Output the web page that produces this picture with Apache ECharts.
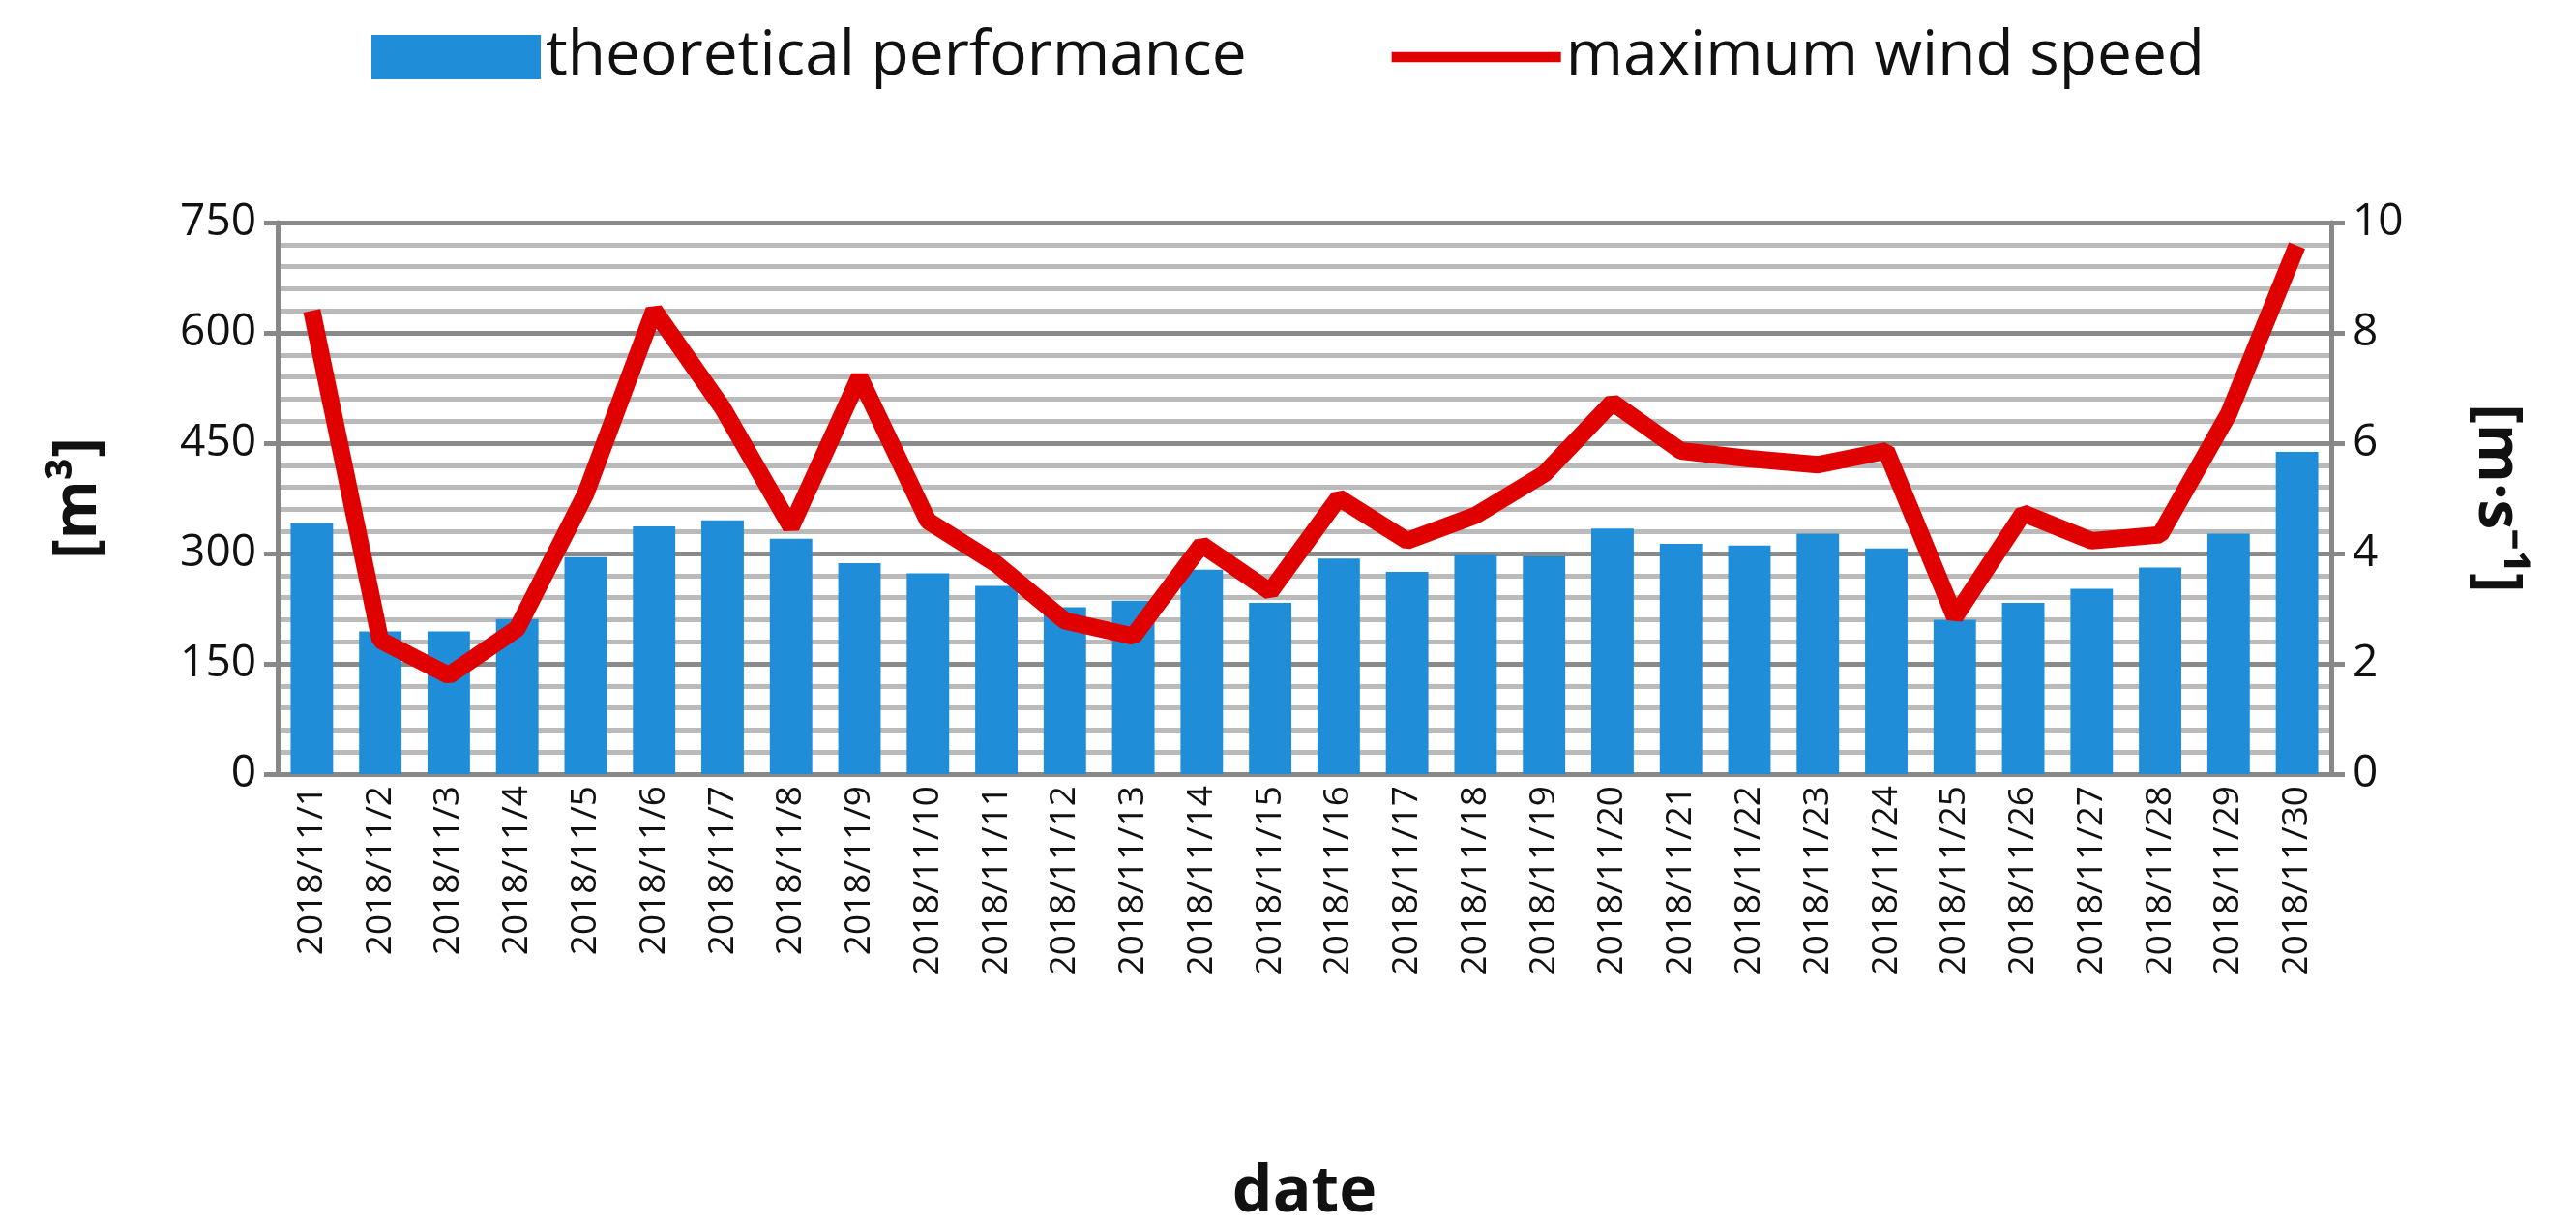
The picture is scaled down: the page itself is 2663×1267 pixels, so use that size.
<!DOCTYPE html>
<html>
<head>
<meta charset="utf-8">
<script src="https://cdn.jsdelivr.net/npm/echarts@6/dist/echarts.min.js"></script>
<style>
html, body { margin: 0; padding: 0; background: #fff; }
#chart { width: 2663px; height: 1267px; }
</style>
</head>
<body>
<div id="chart"></div>
<script>
// 日期
var dates = []
for (var d = 1; d <= 30; d++) dates.push("2018/11/" + d)

// 理论产量 [m3]
var performance = [341, 194, 194, 211, 295, 337, 345, 320, 287, 273,
    256, 227, 236, 278, 233, 293, 275, 298, 296, 334,
    313, 311, 327, 307, 210, 233, 252, 281, 327, 438]

// 最大风速 [m/s]
var windSpeed = [8.4, 2.43, 1.79, 2.64, 5.08, 8.41, 6.64, 4.48, 7.2, 4.59,
    3.81, 2.78, 2.5, 4.16, 3.31, 5.01, 4.23, 4.69, 5.44, 6.74,
    5.86, 5.72, 5.61, 5.86, 2.85, 4.73, 4.23, 4.34, 6.53, 9.58]

var font = "Open Sans"
var myEcharts = echarts.init(document.getElementById("chart"))
var option = {
    textStyle: { fontFamily: font },
    animation: false,
    legend: {
        top: 22,
        left: "center",
        itemGap: 150,
        itemWidth: 175,
        itemHeight: 46,
        textStyle: { fontSize: 64, color: "#111", fontFamily: font },
        data: [
            { name: "theoretical performance", icon: "rect" },
            { name: "maximum wind speed", icon: "path://M0,9 L100,9 L100,15 L0,15 Z", itemStyle: { color: "#e00000" } }
        ]
    },
    grid: { left: 287, right: 253, top: 230, bottom: 460 },
    xAxis: {
        type: "category",
        data: dates,
        name: "date",
        nameLocation: "middle",
        nameGap: 400,
        nameTextStyle: { fontSize: 66, fontWeight: "bold", color: "#111" },
        axisLine: { lineStyle: { color: "#888", width: 5 } },
        axisTick: { show: false },
        axisLabel: { rotate: 90, fontSize: 37, color: "#111", interval: 0, margin: 12 }
    },
    yAxis: [{
        type: "value",
        min: 0, max: 750, interval: 150,
        name: "[m³]",
        nameLocation: "middle",
        nameRotate: 90,
        nameGap: 175,
        nameTextStyle: { fontSize: 62, fontWeight: "bold", color: "#111" },
        axisLine: { show: true, lineStyle: { color: "#888", width: 5 } },
        axisTick: { show: true, length: 14, lineStyle: { color: "#888", width: 5 } },
        axisLabel: { fontSize: 46, color: "#111", margin: 22 },
        splitLine: { lineStyle: { color: "#8a8a8a", width: 5 } },
        minorTick: { show: false, splitNumber: 5 },
        minorSplitLine: { show: true, lineStyle: { color: "#bababa", width: 5 } }
    }, {
        type: "value",
        min: 0, max: 10, interval: 2,
        name: "[m·s⁻¹]",
        nameLocation: "middle",
        nameRotate: -90,
        nameGap: 140,
        nameTextStyle: { fontSize: 62, fontWeight: "bold", color: "#111" },
        axisLine: { show: true, lineStyle: { color: "#888", width: 5 } },
        axisTick: { show: true, length: 14, lineStyle: { color: "#888", width: 5 } },
        axisLabel: { fontSize: 46, color: "#111", margin: 22 },
        splitLine: { show: false }
    }],
    series: [{
        name: "theoretical performance",
        type: "bar",
        yAxisIndex: 0,
        barCategoryGap: "38%",
        itemStyle: { color: "#208dd8" },
        data: performance
    }, {
        name: "maximum wind speed",
        type: "line",
        yAxisIndex: 1,
        symbol: "none",
        lineStyle: { color: "#e00000", width: 18 },
        itemStyle: { color: "#e00000" },
        data: windSpeed
    }]
}
myEcharts.setOption(option)
</script>
</body>
</html>
